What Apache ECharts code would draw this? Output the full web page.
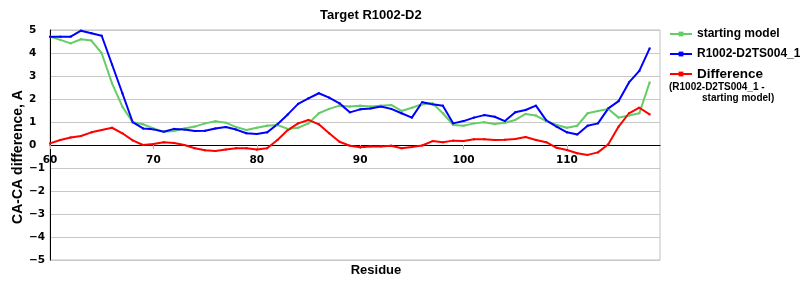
<!DOCTYPE html>
<html>
<head>
<meta charset="utf-8">
<script src="https://cdn.jsdelivr.net/npm/echarts@6/dist/echarts.min.js"></script>
<style>html,body{margin:0;padding:0;background:#fff;}#c{width:800px;height:300px;}</style>
</head>
<body>
<div id="c"></div>
<script>
const residues = [60,61,62,63,64,65,66,67,68,69,70,71,72,73,74,75,76,77,78,79,80,81,82,83,84,85,86,87,88,89,90,91,92,93,94,95,96,97,98,99,100,101,102,103,104,105,106,107,108,109,110,111,112,113,114,115,116,117,118];
const startingModel = [4.71,4.57,4.42,4.60,4.54,3.99,2.68,1.67,0.99,0.90,0.72,0.58,0.61,0.72,0.80,0.94,1.03,0.97,0.78,0.65,0.75,0.84,0.87,0.70,0.75,0.94,1.38,1.57,1.71,1.67,1.71,1.67,1.71,1.74,1.48,1.62,1.77,1.81,1.38,0.87,0.84,0.94,0.99,0.91,0.97,1.09,1.35,1.28,1.04,0.87,0.75,0.84,1.38,1.48,1.57,1.19,1.28,1.38,2.72];
const ts004 = [4.71,4.71,4.71,4.97,4.86,4.75,3.50,2.25,0.99,0.72,0.68,0.58,0.70,0.67,0.61,0.62,0.72,0.78,0.67,0.51,0.48,0.55,0.90,1.33,1.79,2.03,2.25,2.06,1.81,1.42,1.55,1.59,1.67,1.57,1.38,1.19,1.86,1.77,1.71,0.94,1.04,1.19,1.30,1.23,1.04,1.42,1.52,1.71,1.07,0.80,0.55,0.46,0.84,0.94,1.59,1.91,2.72,3.22,4.20];
const difference = [0.07,0.22,0.33,0.39,0.55,0.65,0.75,0.51,0.20,0.00,0.04,0.12,0.09,0.00,-0.14,-0.23,-0.26,-0.20,-0.14,-0.14,-0.20,-0.14,0.22,0.65,0.94,1.09,0.90,0.51,0.14,-0.03,-0.10,-0.06,-0.06,-0.03,-0.14,-0.09,-0.02,0.17,0.12,0.19,0.17,0.25,0.25,0.22,0.23,0.26,0.35,0.22,0.12,-0.12,-0.22,-0.36,-0.43,-0.32,0.03,0.80,1.38,1.62,1.33];
const yTicks = [-5,-4,-3,-2,-1,0,1,2,3,4,5];
const xTicks = [60,70,80,90,100,110];

const pairs = arr => residues.map((r,i) => [r, arr[i]]);
const chart = echarts.init(document.getElementById('c'), null, {renderer:'canvas'});
const tickFont = 'DejaVu Sans';
const mkSeries = (name, arr, color) => ({
  name, type:'line', data: pairs(arr),
  lineStyle:{color, width:2}, itemStyle:{color},
  symbol:'rect', symbolSize:2, showAllSymbol:true, animation:false
});
chart.setOption({
  animation:false,
  title:{text:'Target R1002-D2', left:320, top:9, padding:0,
    textStyle:{fontFamily:'Liberation Sans', fontWeight:'bold', fontSize:13, color:'#000'}},
  grid:{left:50, right:140, top:30, bottom:40, show:true, borderColor:'#c0c0c0', borderWidth:1},
  xAxis:{type:'value', min:60, max:119, interval:10, position:'bottom', offset:-115,
    axisLine:{onZero:false, lineStyle:{color:'#000', width:1}},
    axisTick:{show:true, length:4, lineStyle:{color:'#b0b0b0'}},
    splitLine:{show:false},
    axisLabel:{showMaxLabel:false, margin:10, fontFamily:tickFont, fontWeight:'bold', fontSize:10.5, color:'#000',
      formatter: v => xTicks.includes(v) ? String(v) : ''}},
  yAxis:{type:'value', min:-5, max:5, interval:1,
    axisLine:{show:true, onZero:false, lineStyle:{color:'#000', width:1}},
    axisTick:{show:false},
    splitLine:{lineStyle:{color:'#c8c8c8', width:1}},
    axisLabel:{align:'left', margin:21, fontFamily:tickFont, fontWeight:'bold', fontSize:10.5, color:'#000',
      formatter: v => yTicks.includes(v) ? (v < 0 ? '\u2212' + Math.abs(v) : String(v)) : ''}},
  legend:{orient:'vertical', left:669, top:27, padding:0, itemWidth:22, itemHeight:6, itemGap:6,
    data:['starting model','R1002-D2TS004_1','Difference'],
    textStyle:{fontFamily:'Liberation Sans', fontWeight:'bold', fontSize:12, color:'#000', lineHeight:14,
      rich:{big:{fontFamily:'Liberation Sans', fontWeight:'bold', fontSize:13.5, lineHeight:14, color:'#000'}}},
    formatter: n => n === 'Difference' ? '{big|Difference}' : n},
  graphic:[
    {type:'text', left:669, top:82, style:{text:'(R1002-D2TS004_1 -', fill:'#000', font:'bold 10px "Liberation Sans"'}},
    {type:'text', left:702, top:93, style:{text:'starting model)', fill:'#000', font:'bold 10px "Liberation Sans"'}},
    {type:'text', x:376, y:270, style:{text:'Residue', fill:'#000', font:'bold 13px "Liberation Sans"', textAlign:'center', textVerticalAlign:'middle'}},
    {type:'text', x:18, y:157, rotation:Math.PI/2, style:{text:'CA-CA difference, A', fill:'#000', font:'bold 14px "Liberation Sans"', textAlign:'center', textVerticalAlign:'middle'}}
  ],
  series:[
    mkSeries('starting model', startingModel, '#66cc66'),
    mkSeries('R1002-D2TS004_1', ts004, '#0000ff'),
    mkSeries('Difference', difference, '#ff0000')
  ]
});
</script>
</body>
</html>
